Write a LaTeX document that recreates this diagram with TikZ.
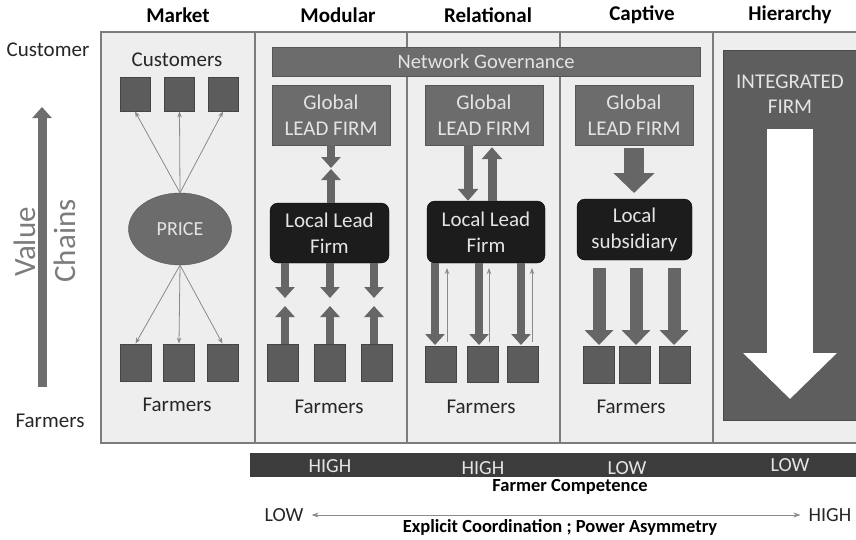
\documentclass[tikz,border=0pt]{standalone}
\usepackage{fontspec}
\setmainfont{Carlito}
\usetikzlibrary{arrows.meta,shapes.geometric}
\definecolor{panel}{HTML}{EEEEEE}
\definecolor{panelline}{HTML}{7C7C7C}
\definecolor{boxgray}{HTML}{6C6C6C}
\definecolor{sqgray}{HTML}{5C5C5C}
\definecolor{darkbox}{HTML}{1C1C1C}
\definecolor{bargray}{HTML}{3C3C3C}
\definecolor{hiergray}{HTML}{5E5E5E}
\definecolor{lighttext}{HTML}{E4E4E4}
\definecolor{arrgray}{HTML}{666666}
\definecolor{thingray}{HTML}{8A8A8A}
\definecolor{axisgray}{HTML}{6E6E6E}
\tikzset{
  hdr/.style={font=\bfseries\fontsize{21}{24}\selectfont, text=black, inner sep=0pt},
  lbl/.style={font=\fontsize{21}{24}\selectfont, text=black!85, inner sep=0pt},
  glob/.style={fill=boxgray, draw=boxgray!80!black, text=lighttext, align=center,
    font=\fontsize{21}{26}\selectfont, minimum width=118pt, minimum height=60pt, inner sep=0pt},
  localbox/.style={fill=darkbox, draw=black, rounded corners=8pt, text=lighttext, align=center,
    font=\fontsize{21}{26}\selectfont, inner sep=0pt},
  sq/.style={fill=sqgray, draw=sqgray!75!black, line width=0.8pt, minimum width=31pt, minimum height=36pt, inner sep=0pt},
  thinarr/.style={draw=thingray, line width=0.8pt, -{Stealth[length=6pt,width=4.5pt]}},
  arrS/.style={draw=arrgray, line width=8pt, -{Triangle[width=19pt,length=11pt]}},
  arrR/.style={draw=arrgray, line width=9pt, -{Triangle[width=20pt,length=12pt]}},
  arrC/.style={draw=arrgray, line width=20pt, -{Triangle[width=40pt,length=20pt]}},
  arrCs/.style={draw=arrgray, line width=13pt, -{Triangle[width=28pt,length=15pt]}},
  bartext/.style={font=\fontsize{20}{22}\selectfont, text=lighttext, inner sep=0pt},
  botbold/.style={font=\bfseries\fontsize{18.5}{21}\selectfont, text=black, inner sep=0pt}
}
\begin{document}
\begin{tikzpicture}[x=1pt,y=-1pt]
\useasboundingbox (0,0) rectangle (856,539);
% panels
\fill[panel] (101,32) rectangle (856,443);
\draw[panelline, line width=1.2pt] (856,32) -- (101,32) -- (101,443) -- (856,443);
\foreach \sx in {255,407,560,713} \draw[panelline, line width=1.2pt] (\sx,32) -- (\sx,443);
% headers
\node[hdr] (hmarket) at (178,15) {Market};
\node[hdr] (hmodular) at (338,15) {Modular};
\node[hdr] (hrelational) at (488,15) {Relational};
\node[hdr] (hcaptive) at (642,15) {Captive};
\node[hdr] (hhier) at (790,15) {Hierarchy};
% left axis
\node[lbl] (lcust) at (48,50) {Customer};
\node[lbl] (lfarm) at (50,421) {Farmers};
\coordinate (vcb) at (42,387);
\coordinate (vct) at (42,107);
\draw[draw=axisgray, line width=9pt, -{Triangle[width=19pt,length=11pt]}] (vcb) -- (vct);
\node[rotate=90, font=\fontsize{31}{34}\selectfont, text=axisgray!90, inner sep=0pt] (tvalue) at (25,242) {Value};
\node[rotate=90, font=\fontsize{31}{34}\selectfont, text=axisgray!90, inner sep=0pt] (tchains) at (65,241) {Chains};
% network governance
\node[fill=boxgray, draw=boxgray!80!black, text=lighttext, font=\fontsize{20.5}{24}\selectfont,
  minimum width=428pt, minimum height=29pt, inner sep=0pt] (netgov) at (486,61.5) {Network Governance};
% ---------------- Market
\node[lbl] (custs) at (177,60) {Customers};
\node[sq, minimum width=30pt, minimum height=34pt] (c1) at (135,94) {};
\node[sq, minimum width=30pt, minimum height=34pt] (c2) at (179.5,94) {};
\node[sq, minimum width=30pt, minimum height=34pt] (c3) at (223,94) {};
\node[ellipse, fill=boxgray, draw=boxgray!80!black, text=lighttext, font=\fontsize{20}{24}\selectfont,
  minimum width=103pt, minimum height=72pt, inner sep=0pt] (price) at (180,229) {PRICE};
\node[sq, minimum height=37pt] (mf1) at (135.5,362.5) {};
\node[sq, minimum height=37pt] (mf2) at (179,362.5) {};
\node[sq, minimum height=37pt] (mf3) at (222.5,362.5) {};
\draw[thinarr] (price.north) -- (c1.south);
\draw[thinarr] (price.north) -- (c2.south);
\draw[thinarr] (price.north) -- (c3.south);
\draw[thinarr] (price.south) -- (mf1.north);
\draw[thinarr] (price.south) -- (mf2.north);
\draw[thinarr] (price.south) -- (mf3.north);
\node[lbl] (farmA) at (177,405) {Farmers};
% ---------------- Modular
\node[glob] (g1) at (331,115) {Global\\LEAD FIRM};
\node[localbox, minimum width=119pt, minimum height=60pt] (l1) at (329.5,233) {Local Lead\\Firm};
\coordinate (m1d) at (331,168);
\coordinate (m1u) at (331,169);
\draw[arrS] (g1.south) -- (m1d);
\draw[arrS] (l1.north -| m1u) -- (m1u);
\node[sq, minimum height=37pt] (of1) at (282.5,362.5) {};
\node[sq, minimum height=37pt] (of2) at (329.5,362.5) {};
\node[sq, minimum height=37pt] (of3) at (376.5,362.5) {};
\foreach \i/\xx in {1/285,2/330,3/374} {
  \coordinate (od\i) at (\xx,298);
  \coordinate (ou\i) at (\xx,306);
  \draw[arrS] (l1.south -| od\i) -- (od\i);
  \draw[arrS] (of\i.north -| ou\i) -- (ou\i);
}
\node[lbl] (farmB) at (329,407) {Farmers};
% ---------------- Relational
\node[glob] (g2) at (484,115) {Global\\LEAD FIRM};
\node[localbox, minimum width=118pt, minimum height=62pt] (l2) at (486,232) {Local Lead\\Firm};
\coordinate (rdn) at (468,0);
\coordinate (rup) at (492,0);
\draw[arrR] (g2.south -| rdn) -- (l2.north -| rdn);
\draw[arrR] (l2.north -| rup) -- ([yshift=-2pt]g2.south -| rup);
\node[sq] (rf1) at (440.5,364) {};
\node[sq] (rf2) at (483,364) {};
\node[sq] (rf3) at (523,364) {};
\foreach \i/\xd/\xu in {1/435/447,2/479/489,3/521/532} {
  \coordinate (rd\i) at (\xd,345);
  \coordinate (ru\i) at (\xu,268);
  \draw[arrS] (l2.south -| rd\i) -- (rd\i);
  \draw[thinarr] (rf\i.north -| ru\i) ++(0,-4) -- (ru\i);
}
\node[lbl] (farmC) at (481,407) {Farmers};
% ---------------- Captive
\node[glob] (g3) at (634,115) {Global\\LEAD FIRM};
\node[localbox, minimum width=115pt, minimum height=61pt] (l3) at (634.5,229.5) {Local\\subsidiary};
\coordinate (ctip) at (634,193);
\draw[arrC] ([yshift=-3pt]g3.south) -- (ctip);
\node[sq, minimum height=37pt] (cf1) at (598.5,364.5) {};
\node[sq, minimum height=37pt] (cf2) at (635,364.5) {};
\node[sq, minimum height=37pt] (cf3) at (674.5,364.5) {};
\foreach \i/\xx in {1/599,2/636,3/674} {
  \coordinate (cd\i) at (\xx,345);
  \draw[arrCs] ([yshift=-8pt]l3.south -| cd\i) -- (cd\i);
}
\node[lbl] (farmD) at (631,407) {Farmers};
% ---------------- Hierarchy
\fill[hiergray] (723,50) rectangle (856,420);
\draw[hiergray!80!black, line width=0.8pt] (856,50) -- (723,50) -- (723,420) -- (856,420);
\node[font=\fontsize{21}{25}\selectfont, text=lighttext, align=center, inner sep=0pt] (intfirm) at (790,94.5) {INTEGRATED\\FIRM};
\coordinate (hat) at (790,129);
\coordinate (hab) at (790,399);
\draw[draw=white, line width=46pt, -{Triangle[width=91pt,length=46pt]}] (hat) -- (hab);
% ---------------- bottom
\fill[bargray] (250,453) rectangle (856,477);
\node[bartext] (b1) at (330,466) {HIGH};
\node[bartext] (b2) at (483,468) {HIGH};
\node[bartext] (b3) at (627,468) {LOW};
\node[bartext] (b4) at (790,465) {LOW};
\node[botbold] (fcomp) at (570,487) {Farmer Competence};
\node[lbl, font=\fontsize{20}{24}\selectfont] (low) at (284,515) {LOW};
\node[lbl, font=\fontsize{20}{24}\selectfont] (high) at (830,515) {HIGH};
\draw[draw=thingray, line width=1pt, {Stealth[length=7pt,width=5pt]}-{Stealth[length=7pt,width=5pt]}] ([xshift=8pt]low.east) -- ([xshift=-8pt]high.west);
\node[botbold] (ecpa) at (560,527) {Explicit Coordination ; Power Asymmetry};
\end{tikzpicture}
\end{document}
